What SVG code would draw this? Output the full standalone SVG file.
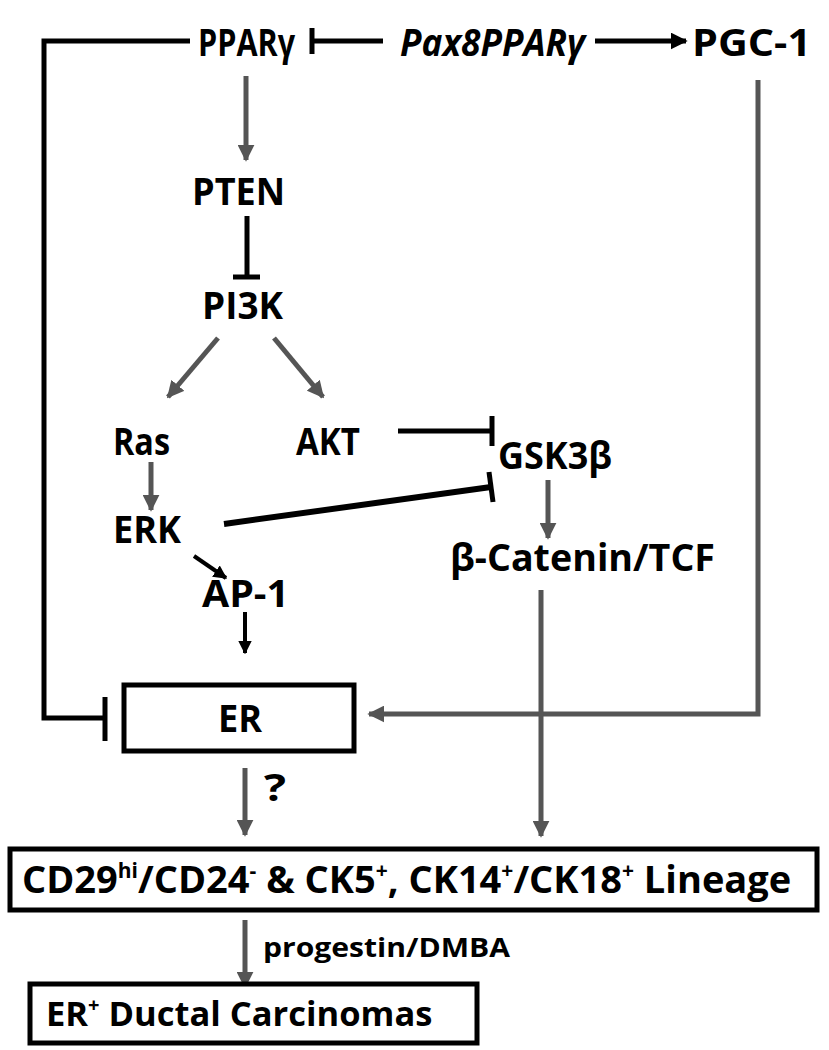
<svg xmlns="http://www.w3.org/2000/svg" width="829" height="1050" viewBox="0 0 829 1050">
<style>
text{font-family:"Open Sans","DejaVu Sans",sans-serif;font-weight:bold;fill:#000;}
.lbl{font-size:37px;}
.blk{stroke:#000;stroke-width:5;fill:none;}
.gry{stroke:#555;stroke-width:5;fill:none;}
.box{stroke:#000;stroke-width:5;fill:#fff;}
</style>
<defs>
<marker id="ag" viewBox="0 0 10 10" refX="9" refY="5" markerWidth="3.4" markerHeight="3.4" orient="auto" markerUnits="strokeWidth"><path d="M0,0 L10,5 L0,10 Z" fill="#555"/></marker>
<marker id="ab" viewBox="0 0 10 10" refX="9" refY="5" markerWidth="3.4" markerHeight="3.4" orient="auto" markerUnits="strokeWidth"><path d="M0,0 L10,5 L0,10 Z" fill="#000"/></marker>
</defs>
<rect width="829" height="1050" fill="#fff"/>
<g id="connectors">
<polyline class="blk" points="190,41 44,41 44,718 103,718"/>
<line class="blk" x1="105" y1="697" x2="105" y2="741"/>
<line class="blk" x1="383" y1="41" x2="312" y2="41"/>
<line class="blk" x1="312" y1="28" x2="312" y2="54"/>
<line class="blk" x1="595" y1="41" x2="686" y2="41" marker-end="url(#ab)"/>
<line class="gry" x1="246" y1="76" x2="246" y2="160" marker-end="url(#ag)"/>
<line class="blk" x1="247" y1="216" x2="247" y2="277"/>
<line class="blk" x1="233" y1="277" x2="260" y2="277"/>
<line class="gry" x1="218" y1="338" x2="168" y2="397" marker-end="url(#ag)"/>
<line class="gry" x1="274" y1="338" x2="323" y2="397" marker-end="url(#ag)"/>
<line class="blk" x1="398" y1="431" x2="492" y2="431"/>
<line class="blk" x1="492" y1="416" x2="492" y2="446"/>
<line class="gry" x1="151" y1="462" x2="151" y2="510" marker-end="url(#ag)"/>
<line class="blk" x1="224" y1="524" x2="491" y2="487" style="stroke-width:6"/>
<line class="blk" x1="489" y1="472" x2="493" y2="502"/>
<line class="gry" x1="548" y1="480" x2="548" y2="538" marker-end="url(#ag)"/>
<line class="blk" x1="194" y1="556" x2="226" y2="578" style="stroke-width:4" marker-end="url(#ab)"/>
<line class="blk" x1="245" y1="612" x2="245" y2="653" style="stroke-width:4" marker-end="url(#ab)"/>
<polyline class="gry" points="758,80 758,714 369,714" marker-end="url(#ag)"/>
<line class="gry" x1="541" y1="590" x2="541" y2="836" marker-end="url(#ag)"/>
<line class="gry" x1="245" y1="768" x2="245" y2="835" marker-end="url(#ag)"/>
<line class="gry" x1="245" y1="920" x2="245" y2="987" marker-end="url(#ag)"/>
</g>
<g id="pparg"><text class="lbl" x="198" y="56" textLength="97" lengthAdjust="spacingAndGlyphs">PPARγ</text></g>
<g id="pax8pparg"><text class="lbl" x="400" y="56" font-style="italic" textLength="185" lengthAdjust="spacingAndGlyphs">Pax8PPARγ</text></g>
<g id="pgc1"><text class="lbl" x="692" y="56" textLength="119" lengthAdjust="spacingAndGlyphs">PGC-1</text></g>
<g id="pten"><text class="lbl" x="192" y="205" textLength="93" lengthAdjust="spacingAndGlyphs">PTEN</text></g>
<g id="pi3k"><text class="lbl" x="202" y="319" textLength="81" lengthAdjust="spacingAndGlyphs">PI3K</text></g>
<g id="ras"><text class="lbl" x="113" y="455" textLength="57" lengthAdjust="spacingAndGlyphs">Ras</text></g>
<g id="akt"><text class="lbl" x="296" y="455" textLength="64" lengthAdjust="spacingAndGlyphs">AKT</text></g>
<g id="gsk3b"><text class="lbl" x="498" y="469" textLength="114" lengthAdjust="spacingAndGlyphs">GSK3β</text></g>
<g id="erk"><text class="lbl" x="113" y="543" textLength="68" lengthAdjust="spacingAndGlyphs">ERK</text></g>
<g id="bcatenin"><text class="lbl" x="450" y="571" textLength="265" lengthAdjust="spacingAndGlyphs">β-Catenin/TCF</text></g>
<g id="ap1"><text class="lbl" x="202" y="607" textLength="87" lengthAdjust="spacingAndGlyphs">AP-1</text></g>
<g id="er">
<rect class="box" x="124" y="685" width="230" height="66"/>
<text class="lbl" x="218" y="732" textLength="44" lengthAdjust="spacingAndGlyphs">ER</text>
</g>
<g id="q"><text class="lbl" x="264" y="801" textLength="22" lengthAdjust="spacingAndGlyphs">?</text></g>
<g id="lineage">
<rect class="box" x="10" y="849" width="807" height="61"/>
<text x="22" y="893" font-size="38">CD29<tspan font-size="21" dy="-15">hi</tspan><tspan dy="15">/CD24</tspan><tspan font-size="21" dy="-15">-</tspan><tspan dy="15"> &amp; CK5</tspan><tspan font-size="21" dy="-15">+</tspan><tspan dy="15">, CK14</tspan><tspan font-size="21" dy="-15">+</tspan><tspan dy="15">/CK18</tspan><tspan font-size="21" dy="-15">+</tspan><tspan dy="15"> Lineage</tspan></text>
</g>
<g id="progestin"><text x="263" y="957" font-size="27" textLength="247" lengthAdjust="spacingAndGlyphs">progestin/DMBA</text></g>
<g id="carcinoma">
<rect class="box" x="30" y="984" width="447" height="59"/>
<text x="46" y="1026" font-size="34.5">ER<tspan font-size="20" dy="-14">+</tspan><tspan dy="14"> Ductal Carcinomas</tspan></text>
</g>
</svg>
